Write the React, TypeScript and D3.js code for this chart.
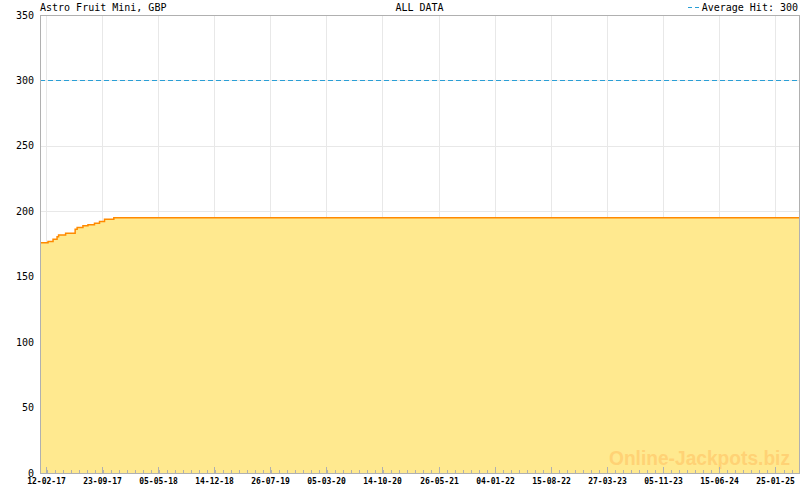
import React from "react";
import * as d3 from "d3";

const TITLE = "Astro Fruit Mini, GBP";
const SUBTITLE = "ALL DATA";
const AVG_LABEL = "Average Hit: 300";
const WATERMARK = "Online-Jackpots.biz";

const dates = [
  "2017-01-19", "2017-02-20", "2017-03-12", "2017-03-28", "2017-04-03",
  "2017-05-01", "2017-06-08", "2017-06-16", "2017-07-09", "2017-07-29",
  "2017-08-24", "2017-09-13", "2017-10-03", "2017-11-09", "2025-04-30",
];
const values = [
  176.0, 176.9, 178.7, 180.5, 181.8,
  183.3, 186.3, 187.6, 188.9, 189.7,
  190.9, 192.2, 194.0, 195.1, 195.1,
];
const averageHit = 300;

const xTickLabels = [
  "12-02-17", "23-09-17", "05-05-18", "14-12-18", "26-07-19", "05-03-20",
  "14-10-20", "26-05-21", "04-01-22", "15-08-22", "27-03-23", "05-11-23",
  "15-06-24", "25-01-25",
];
const yTicks = [0, 50, 100, 150, 200, 250, 300, 350];

const W = 800, H = 490;
const L = 40, R = 799, T = 15, B = 473;

export default function App() {
  const parseISO = d3.timeParse("%Y-%m-%d");
  const parseTick = d3.timeParse("%d-%m-%y");
  const pts = dates.map((d, i) => ({ d: parseISO(d) as Date, v: values[i] }));
  const x = d3.scaleTime().domain([pts[0].d, pts[pts.length - 1].d]).range([L, R]);
  const y = d3.scaleLinear().domain([0, 350]).range([B, T]);

  const area = d3.area<any>().x((p) => x(p.d)).y0(y(0)).y1((p) => y(p.v)).curve(d3.curveStepAfter);
  const line = d3.line<any>().x((p) => x(p.d)).y((p) => y(p.v)).curve(d3.curveStepAfter);

  const majors = xTickLabels.map((s) => ({ s, d: parseTick(s) as Date }));
  const majorX = majors.map((m) => Math.round(x(m.d)) + 0.5);
  const step = (majorX[majorX.length - 1] - majorX[0]) / (majorX.length - 1) / 7;
  const minorX: number[] = [];
  for (let px = majorX[0]; px < R - 1; px += step) minorX.push(Math.round(px) + 0.5);

  const mono = "'DejaVu Sans Mono', monospace";
  const grid = "#e8e8e8";
  const axis = "#b0b0b0";

  return (
    <svg width={W} height={H} style={{ position: "absolute", left: 0, top: 0, background: "#fff" }}>
      {yTicks.map((t) => (
        <line key={"hg" + t} x1={L} x2={R} y1={Math.round(y(t)) + 0.5} y2={Math.round(y(t)) + 0.5} stroke={grid} />
      ))}
      {majorX.map((px, i) => (
        <line key={"vg" + i} x1={px} x2={px} y1={T} y2={B} stroke={grid} />
      ))}
      <path d={area(pts) as string} fill="#FFE98F" />
      <path d={line(pts) as string} fill="none" stroke="#FF8A00" strokeWidth={1.5} />
      <line x1={L} x2={R} y1={Math.round(y(averageHit)) + 0.5} y2={Math.round(y(averageHit)) + 0.5}
        stroke="#2a9fd6" strokeDasharray="5,3" />
      <text x={790} y={465} textAnchor="end" fontFamily="'Liberation Sans', Arial, sans-serif" fontWeight="bold"
        fontSize={20} fill="#FFD275" textLength={181} lengthAdjust="spacingAndGlyphs">{WATERMARK}</text>
      {/* frame */}
      <line x1={L + 0.5} x2={L + 0.5} y1={T} y2={B + 1} stroke={axis} />
      <line x1={L} x2={R + 1} y1={T + 0.5} y2={T + 0.5} stroke={axis} />
      <line x1={R + 0.5} x2={R + 0.5} y1={T} y2={B + 1} stroke={axis} />
      <line x1={L} x2={R + 1} y1={B + 0.5} y2={B + 0.5} stroke={axis} />
      {minorX.map((px, i) => (
        <line key={"mt" + i} x1={px} x2={px} y1={B - 3} y2={B} stroke={axis} />
      ))}
      {majorX.map((px, i) => (
        <line key={"Mt" + i} x1={px} x2={px} y1={B - 6} y2={B} stroke={axis} />
      ))}
      {majors.map((m, i) => (
        <text key={"xl" + i} x={majorX[i]} y={484} textAnchor="middle" fontFamily={mono} fontWeight="bold"
          fontSize={8} fill="#000">{m.s}</text>
      ))}
      {yTicks.map((t) => (
        <text key={"yl" + t} x={34} y={y(t) + 3.5} textAnchor="end" fontFamily={mono} fontSize={10} fill="#000">{t}</text>
      ))}
      <text x={40} y={11} fontFamily={mono} fontSize={10} fill="#000">{TITLE}</text>
      <text x={(L + R) / 2} y={11} textAnchor="middle" fontFamily={mono} fontSize={10} fill="#000">{SUBTITLE}</text>
      <text x={798} y={11} textAnchor="end" fontFamily={mono} fontSize={10} fill="#000">{AVG_LABEL}</text>
      <line x1={688} x2={699} y1={7.5} y2={7.5} stroke="#2a9fd6" strokeDasharray="4,3" />
    </svg>
  );
}
